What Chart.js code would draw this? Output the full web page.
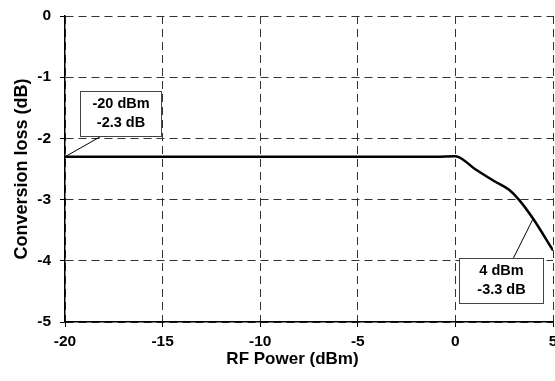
<!DOCTYPE html>
<html>
<head>
<meta charset="utf-8">
<script src="https://cdn.jsdelivr.net/npm/chart.js@4.4.1/dist/chart.umd.min.js"></script>
<style>
  body { margin: 0; background: #fff; }
  #wrap { width: 555px; height: 381px; }
</style>
</head>
<body>
<div id="wrap"><canvas id="chart" width="555" height="381"></canvas></div>
<script>
// curve
const rfPower = [-20, -15, -10, -5, -1, 0, 1, 2, 2.75, 3.25, 4, 5];
const convLoss = [-2.3, -2.3, -2.3, -2.3, -2.3, -2.29, -2.5, -2.7, -2.84, -3.0, -3.32, -3.83];

// callout boxes
const noteX = [-20, 4];
const noteY = [-2.3, -3.3];
const noteText = [['-20 dBm', '-2.3 dB'], ['4 dBm', '-3.3 dB']];

const FONT = "'Liberation Sans', Arial, sans-serif";

// box placement relative to the anchor point (pixels)
const noteBoxes = [
    { dx: 15, dy: -66, w: 81, h: 45, lx: 37, ly: -21 },
    { dx: -74, dy: 40, w: 84, h: 45, lx: -20, ly: 40 }
];

const calloutPlugin = {
    id: 'callouts',
    afterDatasetsDraw(chart) {
        const ctx = chart.ctx;
        const xs = chart.scales.x, ys = chart.scales.y;
        ctx.save();
        noteX.forEach((v, i) => {
            const px = xs.getPixelForValue(v);
            const py = ys.getPixelForValue(noteY[i]);
            const b = noteBoxes[i];
            // leader
            ctx.strokeStyle = '#000';
            ctx.lineWidth = 1;
            ctx.beginPath();
            ctx.moveTo(px, py);
            ctx.lineTo(px + b.lx, py + b.ly);
            ctx.stroke();
            // box
            const bx = Math.round(px + b.dx) + 0.5, by = Math.round(py + b.dy) + 0.5;
            ctx.fillStyle = '#fff';
            ctx.fillRect(bx, by, b.w, b.h);
            ctx.strokeStyle = '#444';
            ctx.strokeRect(bx, by, b.w, b.h);
            ctx.fillStyle = '#000';
            ctx.font = 'bold 14.5px ' + FONT;
            ctx.textAlign = 'center';
            ctx.textBaseline = 'middle';
            noteText[i].forEach((t, k) => {
                ctx.fillText(t, bx + b.w / 2, by + 12 + k * 19);
            });
        });
        ctx.restore();
    }
};

new Chart(document.getElementById('chart'), {
    type: 'line',
    data: {
        datasets: [{
            data: rfPower.map((x, i) => ({ x: x, y: convLoss[i] })),
            borderColor: '#000',
            borderWidth: 2.5,
            pointRadius: 0,
            cubicInterpolationMode: 'monotone',
            fill: false
        }]
    },
    options: {
        responsive: false,
        devicePixelRatio: 1,
        animation: false,
        layout: { padding: { top: 16, right: 2, left: 0, bottom: 0 } },
        plugins: { legend: { display: false }, tooltip: { enabled: false } },
        scales: {
            x: {
                type: 'linear',
                min: -20,
                max: 5,
                ticks: {
                    stepSize: 5,
                    color: '#000',
                    padding: 5,
                    font: { family: FONT, size: 15.5, weight: 'bold' }
                },
                grid: { color: '#333', lineWidth: 1, tickLength: 5, tickColor: '#000' },
                border: { display: true, color: '#000', width: 1.5, dash: [8, 5] },
                title: {
                    display: true,
                    // trailing spaces nudge the title left like the original
                    text: 'RF Power (dBm)       ',
                    color: '#000',
                    font: { family: FONT, size: 17, weight: 'bold' },
                    padding: { top: 0, bottom: 11 }
                },
                afterFit(scale) {
                    scale.height = 59;
                    scale.paddingLeft = 0;
                    scale.paddingRight = 0;
                }
            },
            y: {
                min: -5,
                max: 0,
                ticks: {
                    stepSize: 1,
                    color: '#000',
                    padding: 9,
                    font: { family: FONT, size: 15.5, weight: 'bold' }
                },
                grid: { color: '#333', lineWidth: 1, tickLength: 5, tickColor: '#000' },
                border: { display: true, color: '#000', width: 1.5, dash: [8, 5] },
                title: {
                    display: true,
                    text: 'Conversion loss (dB)',
                    color: '#000',
                    font: { family: FONT, size: 18, weight: 'bold' },
                    padding: { top: 11, bottom: 0 }
                },
                afterFit(scale) {
                    scale.width = 65;
                    scale.paddingTop = 0;
                    scale.paddingBottom = 0;
                }
            }
        }
    },
    plugins: [calloutPlugin]
});
</script>
</body>
</html>
